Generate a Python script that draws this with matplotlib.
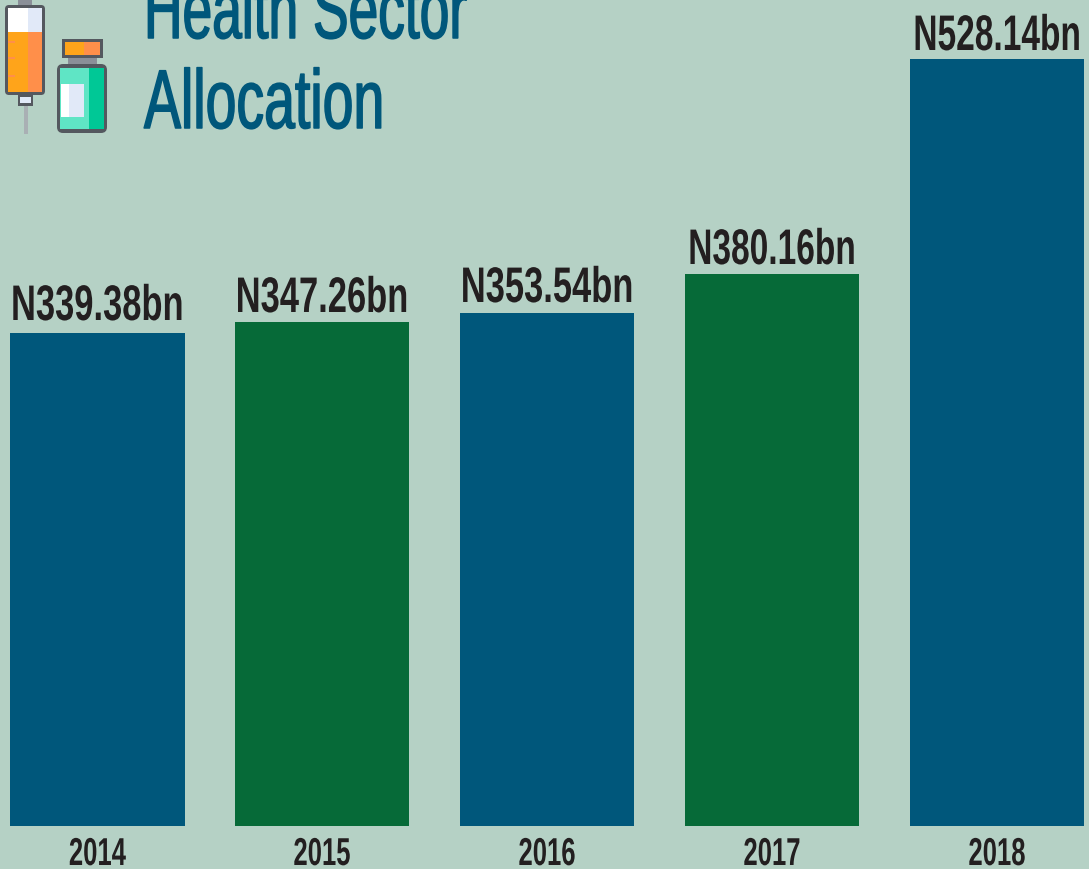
import matplotlib.pyplot as plt
from matplotlib.patches import Rectangle, FancyBboxPatch
from matplotlib.patheffects import AbstractPathEffect
from matplotlib.transforms import Affine2D

years = ['2014', '2015', '2016', '2017', '2018']
values = [339.38, 347.26, 353.54, 380.16, 528.14]
labels = ['N339.38bn', 'N347.26bn', 'N353.54bn', 'N380.16bn', 'N528.14bn']
colors = ['#00577b', '#066a38', '#00577b', '#066a38', '#00577b']
title = ['Health Sector', 'Allocation']
bg = '#b5d1c5'
ink = '#231f20'
blue = '#00577b'

W, H = 1089, 869
fig = plt.figure(figsize=(W / 100, H / 100), dpi=100, facecolor=bg)
plt.rcParams['font.family'] = ['Liberation Sans', 'DejaVu Sans']


# the condensed poster font is not installed, so squeeze the glyphs around x
class Squeeze(AbstractPathEffect):
    def __init__(self, x, s, lw=0, color=None):
        super().__init__()
        self.x = x
        self.s = s
        self.lw = lw
        self.color = color

    def draw_path(self, renderer, gc, tpath, affine, rgbFace=None):
        sq = Affine2D().translate(-self.x, 0).scale(self.s, 1).translate(self.x, 0)
        gc0 = renderer.new_gc()
        gc0.copy_properties(gc)
        if self.lw:
            gc0.set_linewidth(self.lw)
            gc0.set_foreground(self.color)
        renderer.draw_path(gc0, tpath, affine + sq, rgbFace)
        gc0.restore()


# bars: baseline y=826 px, the 528.14 bar tops out at y=59
ax = fig.add_axes([0, (H - 826) / H, 1, 826 / H])
ax.set_facecolor('none')
step = 224.9
ax.bar(range(5), values, width=174.6 / step, color=colors)
ax.set_xlim(-97.3 / step, (W - 97.3) / step)
ax.set_ylim(0, 528.14 * 826 / (826 - 59))
ax.set_xticks([])
ax.set_yticks([])
for s in ax.spines.values():
    s.set_visible(False)

overlay = fig.add_axes([0, 0, 1, 1])
overlay.set_xlim(0, W)
overlay.set_ylim(H, 0)
overlay.set_xticks([])
overlay.set_yticks([])
overlay.axis('off')


def put(txt, x, y, size, color, sx, ha='center'):
    t = overlay.text(x, y, txt, fontsize=size, color=color, ha=ha, va='baseline',
                     fontweight='bold')
    t.set_path_effects([Squeeze(x, sx)])
    return t


centers = [97.5, 322, 547, 772, 997]
tops = [320, 312, 302, 264, 50]
squeezes = [0.69, 0.69, 0.69, 0.67, 0.67]
for i in range(5):
    # first and last labels anchored on the outer end, their unsqueezed box stays inside
    if i == 0:
        put(labels[i], 11, tops[i], 36, ink, squeezes[i], ha='left')
    elif i == 4:
        put(labels[i], 1081, tops[i], 36, ink, squeezes[i], ha='right')
    else:
        put(labels[i], centers[i], tops[i], 36, ink, squeezes[i])
    put(years[i], centers[i], 865, 28, ink, 0.66)

# title is regular weight with a thin stroke, bold was too heavy
for txt, yb, sx in zip(title, [38, 128], [0.64, 0.665]):
    t = overlay.text(144, yb, txt, fontsize=60, color=blue, ha='left', va='baseline')
    t.set_path_effects([Squeeze(144, sx, lw=1.1, color=blue)])

dark = '#54585f'
orange = '#ffa41a'
orange2 = '#ff8f4a'
lav = '#e1e9f8'


def box(x0, y0, x1, y1, c):
    overlay.add_patch(Rectangle((x0, y0), x1 - x0, y1 - y0, fc=c, ec='none'))


# syringe
box(24, 105, 28, 134, '#a9b0b4')
box(18, 0, 32, 5, '#8a8f98')
overlay.add_patch(FancyBboxPatch((5, 5), 40, 90, boxstyle='round,pad=0,rounding_size=4',
                                 fc=dark, ec='none'))
box(8, 8, 28, 32, 'white')
box(28, 8, 42, 32, lav)
box(8, 32, 28, 92, orange)
box(28, 32, 42, 92, orange2)
for yt in [42, 58, 76]:
    box(8, yt - 1, 15, yt + 1, orange2)
box(18, 95, 33, 106, dark)
box(20, 97, 31, 103, lav)

# vial
box(62, 39, 103, 58, dark)
box(65, 42, 84, 55, orange)
box(84, 42, 100, 55, orange2)
box(68, 58, 97, 64, '#8a8f98')
overlay.add_patch(FancyBboxPatch((57, 64), 50, 69, boxstyle='round,pad=0,rounding_size=6',
                                 fc=dark, ec='none'))
box(60, 68, 89, 129, '#5fe5c5')
box(89, 68, 104, 129, '#00c896')
box(61, 84, 69, 117, 'white')
box(69, 84, 84, 117, lav)

fig.savefig('out.png', dpi=100, facecolor=bg)
